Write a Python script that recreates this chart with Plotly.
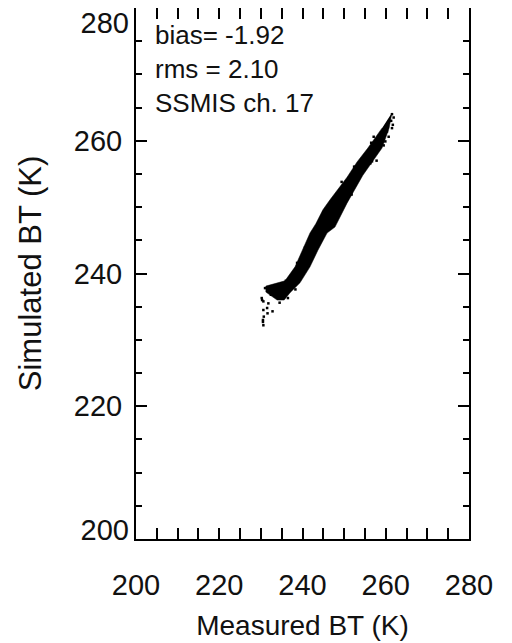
import plotly.graph_objects as go

# ---------------------------------------------------------
# Dados (K)
# ---------------------------------------------------------
# contorno da nuvem densa (medido, simulado)
nuvem_med = [261.5, 260.8, 259.1, 256.7, 254.5, 250.7, 247.8, 245.9, 243.7, 241.8,
             239.4, 237.0, 235.6, 233.9, 231.2, 231.2, 235.8, 238.2, 239.9, 241.8,
             243.2, 244.9, 246.6, 250.7, 253.1, 255.7, 259.1]
nuvem_sim = [264.2, 261.9, 258.9, 256.8, 254.8, 250.6, 247.0, 246.1, 243.5, 241.0,
             238.6, 237.1, 236.0, 236.0, 237.2, 238.1, 238.9, 241.0, 243.5, 246.1,
             247.5, 249.6, 251.1, 254.5, 256.8, 258.9, 261.9]

# pontos isolados em volta da nuvem
pts_med = [230.5, 230.3, 231.5, 231.0, 230.2, 230.6, 231.8, 230.6, 232.8, 231.6,
           230.7, 230.5, 230.6, 232.4, 233.6, 234.5, 236.5, 238.3, 240.9, 244.4,
           248.6, 252.4, 256.5, 261.5, 261.9, 261.3, 261.7, 261.5, 260.3, 260.7,
           259.9, 259.5, 257.1, 256.3, 256.7, 254.3, 247.2, 242.4, 239.5, 236.0,
           245.0, 249.4, 251.8, 253.6, 257.8, 240.6, 238.7, 234.6]
pts_sim = [233.0, 236.0, 234.8, 237.8, 236.3, 235.8, 235.5, 234.5, 234.3, 234.0,
           233.5, 232.7, 232.2, 236.8, 237.9, 235.6, 236.3, 237.6, 242.0, 246.8,
           252.1, 256.1, 259.7, 264.0, 263.5, 263.0, 262.4, 261.9, 261.4, 260.6,
           259.9, 259.3, 260.6, 256.6, 256.9, 255.7, 248.6, 245.4, 240.4, 238.9,
           249.2, 253.8, 251.9, 255.2, 257.0, 243.9, 241.6, 237.1]

ticks_maiores = [200, 220, 240, 260, 280]
ticks_y_meio = [220, 240, 260]
texto = ["bias= -1.92", "rms = 2.10", "SSMIS ch. 17"]

fonte = "Liberation Sans, Arial, Helvetica, sans-serif"
fonte_ticks = dict(family=fonte, size=29, color="#111")

fig = go.Figure()

fig.add_trace(go.Scatter(
    x=nuvem_med, y=nuvem_sim,
    mode="lines", fill="toself",
    fillcolor="black", line=dict(color="black", width=0.5),
    hoverinfo="skip",
))

fig.add_trace(go.Scatter(
    x=pts_med, y=pts_sim,
    mode="markers",
    marker=dict(symbol="square", size=2.5, color="black", line_width=0),
))

eixo = dict(
    range=[200, 280],
    tickvals=ticks_maiores,
    ticks="inside", ticklen=11, tickwidth=1.5, tickcolor="black",
    minor=dict(dtick=5, ticks="inside", ticklen=6, tickwidth=1.5, tickcolor="black"),
    showline=True, linecolor="black", linewidth=2, mirror="allticks",
    showgrid=False, zeroline=False,
    tickfont=fonte_ticks,
    automargin=False,
)

fig.update_xaxes(**eixo, ticklabelstandoff=19,
                 title=dict(text="Measured BT (K)", standoff=16,
                            font=dict(family=fonte, size=28, color="#111")))
fig.update_yaxes(**eixo, ticklabelstandoff=6,
                 ticktext=["" if v not in ticks_y_meio else str(v) for v in ticks_maiores],
                 title=dict(text="Simulated BT (K)", standoff=23,
                            font=dict(family=fonte, size=31, color="#111")))

# rótulos das pontas do eixo y, deslocados como no original
rotulo = dict(range=[200, 280], overlaying="y", side="left", anchor="x",
              showline=False, showgrid=False, zeroline=False, ticks="",
              tickfont=fonte_ticks, ticklabelstandoff=6, automargin=False,
              ticklabeloverflow="allow")
fig.update_layout(
    yaxis2=dict(**rotulo, tickvals=[280], ticktext=["280"], ticklabelshift=15),
    yaxis3=dict(**rotulo, tickvals=[200], ticktext=["200"], ticklabelshift=-9),
)
fig.add_trace(go.Scatter(x=[], y=[], yaxis="y2", showlegend=False))
fig.add_trace(go.Scatter(x=[], y=[], yaxis="y3", showlegend=False))

fig.add_annotation(
    x=204.0, y=278.5, xref="x", yref="y",
    text="<br>".join(texto), showarrow=False,
    xanchor="left", yanchor="top", align="left",
    font=dict(family=fonte, size=26, color="#111"),
)

# a página tem 8 px de margem no body: figura menor para compensar
fig.update_layout(
    width=504, height=635,
    margin=dict(l=128, r=43, t=0, b=104),
    plot_bgcolor="white", paper_bgcolor="white",
    showlegend=False,
)

fig.write_html("out.html")
